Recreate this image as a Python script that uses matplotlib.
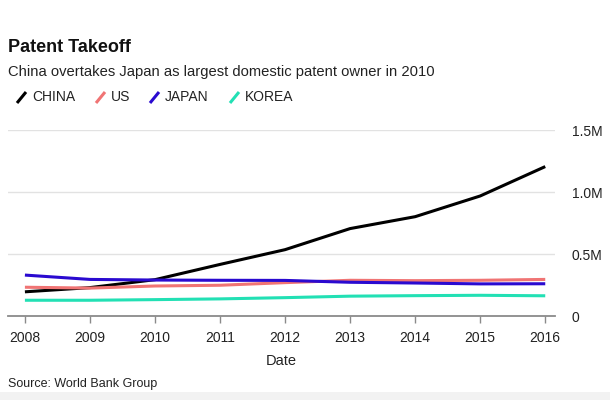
import matplotlib
matplotlib.use("Agg")
import matplotlib.pyplot as plt
from matplotlib.lines import Line2D
from matplotlib.patches import Rectangle
from matplotlib.ticker import FuncFormatter

plt.rcParams['font.family'] = ['Liberation Sans', 'DejaVu Sans']

# --- data (resident patent applications) ---
years = [2008, 2009, 2010, 2011, 2012, 2013, 2014, 2015, 2016]
china = [195000, 229000, 293000, 416000, 535000, 705000, 801000, 968000, 1205000]
us = [232000, 225000, 242000, 248000, 269000, 288000, 285000, 288000, 295000]
japan = [330000, 295000, 290000, 288000, 287000, 272000, 266000, 259000, 260000]
korea = [127000, 127000, 132000, 138000, 148000, 160000, 164000, 167000, 163000]

series_names = ['CHINA', 'US', 'JAPAN', 'KOREA']
series_colors = ['#000000', '#f07474', '#2a0ad0', '#22e0b4']
series_values = [china, us, japan, korea]

y_ticks = [0, 500000, 1000000, 1500000]

W, H = 610, 400
fig = plt.figure(figsize=(W / 100, H / 100), dpi=100)
ax = fig.add_axes([8 / W, 1 - 316 / H, (555 - 8) / W, (316 - 130) / H])

# draw lines, china on top
order = [3, 1, 2, 0]
for i in order:
    ax.plot(years, series_values[i], color=series_colors[i], lw=2.2,
            solid_capstyle='butt', zorder=3 + i, clip_on=False)

ax.set_xlim(2007.74, 2016.15)
ax.set_ylim(0, 1500000)

# axes styling
for s in ['top', 'left', 'right']:
    ax.spines[s].set_visible(False)
ax.spines['bottom'].set_color('#8a8a8a')
ax.spines['bottom'].set_linewidth(1.3)

ax.set_xticks(years)
ax.set_xticklabels([str(y) for y in years], fontsize=10, color='#222222')
ax.tick_params(axis='x', length=5, width=1, color='#8a8a8a', pad=6)

ax.set_yticks(y_ticks)
ax.yaxis.tick_right()
ax.yaxis.set_major_formatter(FuncFormatter(
    lambda v, p: '0' if v == 0 else f'{v / 1e6:.1f}M'))
ax.tick_params(axis='y', length=0, pad=12, labelsize=10, labelcolor='#222222')
for t in y_ticks[1:]:
    ax.axhline(t, color='#e2e2e2', lw=1, zorder=1)

ax.set_xlabel('Date', fontsize=10.5, color='#222222', labelpad=6)

# titles
fig.text(8 / W, 1 - 47 / H, 'Patent Takeoff', fontsize=13, fontweight='bold',
         va='center', ha='left', color='#111111')
fig.text(8 / W, 1 - 72 / H,
         'China overtakes Japan as largest domestic patent owner in 2010',
         fontsize=10.6, va='center', ha='left', color='#222222')

# legend with slanted markers
leg_x = [17, 96, 150, 230]
for name, col, x0 in zip(series_names, series_colors, leg_x):
    fig.add_artist(Line2D([x0 / W, (x0 + 9) / W],
                          [1 - 103 / H, 1 - 92 / H],
                          color=col, lw=2.2, solid_capstyle='butt'))
    fig.text((x0 + 15) / W, 1 - 97 / H, name, fontsize=10,
             va='center', ha='left', color='#222222')

fig.text(8 / W, 1 - 384 / H, 'Source: World Bank Group', fontsize=9,
         va='center', ha='left', color='#222222')

fig.add_artist(Rectangle((0, 0), 1, 8 / H, transform=fig.transFigure,
                         facecolor='#f2f2f2', edgecolor='none'))

fig.savefig('out.png', dpi=100)
